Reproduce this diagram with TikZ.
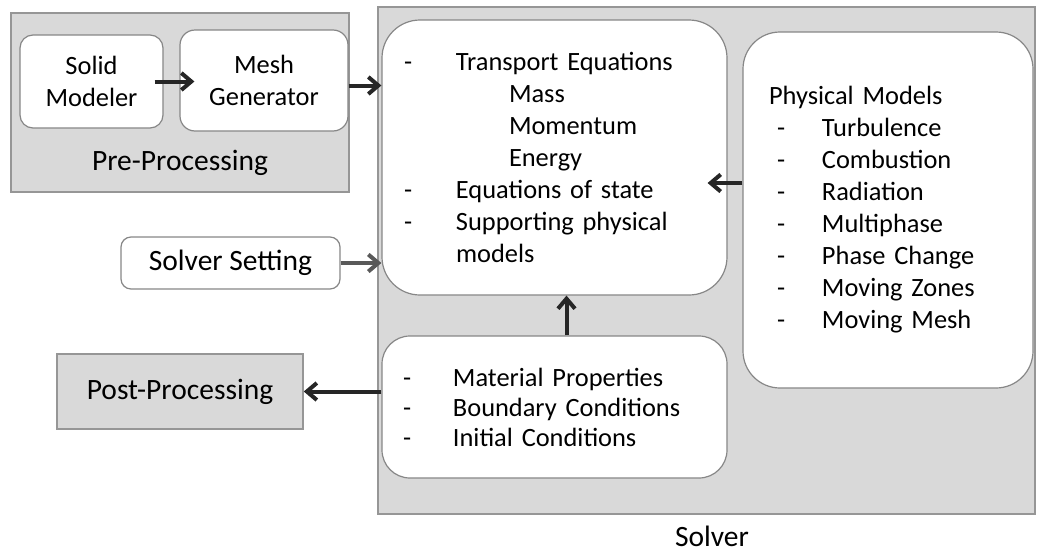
\documentclass[tikz,border=0pt]{standalone}
\usepackage{fontspec}
\setmainfont{Carlito}
\usetikzlibrary{arrows.meta}
\definecolor{panelgray}{RGB}{217,217,217}
\definecolor{panelline}{RGB}{150,150,150}
\definecolor{boxline}{RGB}{135,135,135}
\definecolor{arrowdark}{RGB}{38,38,38}
\definecolor{arrowgray}{RGB}{89,89,89}
% dash with its own column width
\newcommand{\dsh}[2][0pt]{\makebox[#2][l]{\hspace*{#1}-}}
\tikzset{
  panel/.style={draw=panelline, line width=1.5pt, fill=panelgray, inner sep=0pt},
  roundbox/.style={draw=boxline, line width=1.2pt, fill=white, rounded corners=#1},
  roundbox/.default=14pt,
  listtxt/.style={font=\fontsize{26.4}{32}\selectfont, align=left},
  bigtxt/.style={font=\fontsize{29.5}{34}\selectfont},
  flow/.style={line width=4pt, draw=arrowdark, -{Straight Barb[length=10pt,width=17pt]}},
}
\begin{document}
\begin{tikzpicture}[x=1pt, y=-1pt]
  \useasboundingbox (0,0) rectangle (1037,552);
  % Pre-processing
  \node[panel, minimum width=338pt, minimum height=179pt] (pre) at (180,102.5) {};
  \node[bigtxt] (prelbl) at (180,163) {Pre-Processing};
  \node[roundbox=13pt, minimum width=143pt, minimum height=93pt, listtxt, align=center] (solid) at (91.5,81.5) {Solid\\Modeler};
  \node[roundbox=15pt, minimum width=168pt, minimum height=101pt, listtxt, align=center] (mesh) at (264,80.5) {Mesh\\Generator};
  % Solver
  \node[panel, minimum width=657pt, minimum height=507pt] (solver) at (706.5,260.5) {};
  \node[bigtxt, inner sep=0pt] (solverlbl) at (712,536) {Solver};
  \node[roundbox=38pt, listtxt, text width=301pt, inner xsep=22pt, minimum height=275pt] (trans) at (554.5,157.5) {%
    \dsh{52pt}Transport Equations\\
    \hspace*{105pt}Mass\\
    \hspace*{105pt}Momentum\\
    \hspace*{105pt}Energy\\
    \dsh{52pt}Equations of state\\
    \dsh{52pt}Supporting physical\\
    \hspace*{52pt}models};
  \node[roundbox=37pt, listtxt, text width=238pt, inner xsep=26pt, minimum height=356pt] (phys) at (888,210) {%
    Physical Models\\
    \dsh[8pt]{53pt}Turbulence\\
    \dsh[8pt]{53pt}Combustion\\
    \dsh[8pt]{53pt}Radiation\\
    \dsh[8pt]{53pt}Multiphase\\
    \dsh[8pt]{53pt}Phase Change\\
    \dsh[8pt]{53pt}Moving Zones\\
    \dsh[8pt]{53pt}Moving Mesh};
  \node[roundbox=28pt, listtxt, font=\fontsize{26.4}{30}\selectfont, text width=303pt, inner xsep=21pt, minimum height=142pt] (material) at (554.5,407) {%
    \dsh{50pt}Material Properties\\
    \dsh{50pt}Boundary Conditions\\
    \dsh{50pt}Initial Conditions};
  % outside the solver
  \node[roundbox=10pt, bigtxt, minimum width=219pt, minimum height=52pt] (setting) at (230.5,263) {Solver Setting};
  \node[panel, bigtxt, minimum width=246pt, minimum height=75pt] (post) at (180,391.5) {Post-Processing};
  % arrows
  \draw[flow, shorten <=-9pt, shorten >=-15pt] (solid.east) -- (solid.east -| mesh.west);
  \draw[flow] ([yshift=-5pt]mesh.east) -- ([yshift=-5pt]mesh.east -| trans.west);
  \draw[flow, draw=arrowgray] (setting.east) -- (setting.east -| trans.west);
  \draw[flow, shorten >=-20pt] ([yshift=27pt]phys.west) -- ([yshift=27pt]phys.west -| trans.east);
  \draw[flow] ([xshift=12pt]material.north) -- ([xshift=12pt]trans.south);
  \draw[flow] (material.west |- post.east) -- (post.east);
\end{tikzpicture}
\end{document}
